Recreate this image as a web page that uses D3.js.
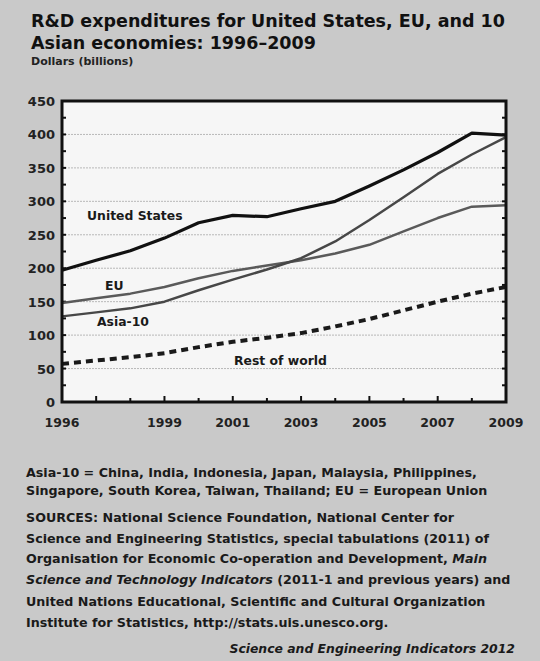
<!DOCTYPE html>
<html>
<head>
<meta charset="utf-8">
<script src="https://cdn.jsdelivr.net/npm/d3@7"></script>
<style>
  body { margin: 0; background: #c9c9c9; }
  svg { display: block; font-family: "DejaVu Sans", "Liberation Sans", Arial, sans-serif; }
</style>
</head>
<body>
<div id="chart"></div>
<script>
// years on the x axis
let years = d3.range(1996, 2010);

// series values, billions of dollars
let usValues   = [197, 212, 226, 245, 268, 279, 277, 289, 300, 323, 347, 373, 402, 399];
let euValues   = [148, 155, 162, 172, 185, 196, 204, 212, 222, 235, 255, 275, 292, 294];
let asiaValues = [128, 134, 140, 150, 167, 183, 198, 215, 240, 272, 306, 341, 370, 396];
let rowValues  = [57, 62, 67, 73, 82, 90, 96, 103, 113, 124, 137, 150, 162, 172];

let yTicks = [0, 50, 100, 150, 200, 250, 300, 350, 400, 450];
let xTickLabels = [1996, 1999, 2001, 2003, 2005, 2007, 2009];

let series = [
  {name: 'Rest of world', values: rowValues, color: '#1a1a1a', width: 4, dash: '7,5'},
  {name: 'EU', values: euValues, color: '#5a5a5a', width: 2.5, dash: null},
  {name: 'Asia-10', values: asiaValues, color: '#474747', width: 2.5, dash: null},
  {name: 'United States', values: usValues, color: '#111', width: 3.2, dash: null}
];

let width = 540;
let height = 661;
let plotLeft = 62, plotRight = 506, plotTop = 101, plotBottom = 402;

let svg = d3.select('#chart').append('svg')
    .attr('width', width)
    .attr('height', height);

svg.append('rect').attr('width', width).attr('height', height).attr('fill', '#c9c9c9');

let xScale = d3.scaleLinear().domain([1996, 2009]).range([plotLeft, plotRight]);
let yScale = d3.scaleLinear().domain([0, 450]).range([plotBottom, plotTop]);

// title and unit
let title = svg.append('text')
    .attr('x', 31).attr('y', 27)
    .style('font-size', '17.5px').style('font-weight', 'bold').attr('fill', '#111');
title.append('tspan').attr('x', 31).text('R&D expenditures for United States, EU, and 10');
title.append('tspan').attr('x', 31).attr('dy', 22).text('Asian economies: 1996\u20132009');

svg.append('text')
    .attr('x', 31).attr('y', 65)
    .style('font-size', '11px').style('font-weight', 'bold').attr('fill', '#222')
    .text('Dollars (billions)');

// plot area
svg.append('rect')
    .attr('x', plotLeft).attr('y', plotTop)
    .attr('width', plotRight - plotLeft).attr('height', plotBottom - plotTop)
    .attr('fill', '#f6f6f6');

// gridlines
svg.append('g').selectAll('line')
    .data(yTicks.filter(d => d > 0 && d < 450))
    .enter().append('line')
    .attr('x1', plotLeft).attr('x2', plotRight)
    .attr('y1', d => yScale(d)).attr('y2', d => yScale(d))
    .attr('stroke', '#b8b8b8').attr('stroke-width', 1)
    .attr('stroke-dasharray', '2,1');

// y axis labels
svg.append('g').selectAll('text')
    .data(yTicks)
    .enter().append('text')
    .attr('x', 55).attr('y', d => yScale(d) + 5)
    .attr('text-anchor', 'end')
    .style('font-size', '13px').style('font-weight', 'bold').attr('fill', '#222')
    .text(d => d);

// inner ticks on left and right axes
let yMinor = d3.range(25, 450, 25);
svg.append('g').selectAll('line')
    .data(yMinor)
    .enter().append('line')
    .attr('x1', plotLeft).attr('x2', plotLeft + 4)
    .attr('y1', d => yScale(d)).attr('y2', d => yScale(d))
    .attr('stroke', '#111').attr('stroke-width', 2);
svg.append('g').selectAll('line')
    .data(yMinor)
    .enter().append('line')
    .attr('x1', plotRight - 4).attr('x2', plotRight)
    .attr('y1', d => yScale(d)).attr('y2', d => yScale(d))
    .attr('stroke', '#111').attr('stroke-width', 2);

// bottom ticks
svg.append('g').selectAll('line')
    .data(years.slice(1, -1))
    .enter().append('line')
    .attr('x1', d => xScale(d)).attr('x2', d => xScale(d))
    .attr('y1', plotBottom).attr('y2', d => plotBottom - (d % 2 ? 6 : 4))
    .attr('stroke', '#111').attr('stroke-width', 2);

// x labels
svg.append('g').selectAll('text')
    .data(xTickLabels)
    .enter().append('text')
    .attr('x', d => xScale(d)).attr('y', 427)
    .attr('text-anchor', 'middle')
    .style('font-size', '12.5px').style('font-weight', 'bold').attr('fill', '#222')
    .text(d => d);

// series lines
let line = d3.line()
    .x((d, i) => xScale(years[i]))
    .y(d => yScale(d));

svg.append('g').selectAll('path')
    .data(series)
    .enter().append('path')
    .attr('d', d => line(d.values))
    .attr('fill', 'none')
    .attr('stroke', d => d.color)
    .attr('stroke-width', d => d.width)
    .attr('stroke-dasharray', d => d.dash)
    .attr('stroke-linejoin', 'round');

// frame
svg.append('rect')
    .attr('x', plotLeft).attr('y', plotTop)
    .attr('width', plotRight - plotLeft).attr('height', plotBottom - plotTop)
    .attr('fill', 'none').attr('stroke', '#111').attr('stroke-width', 3);

// series labels
let seriesLabels = [
  {text: 'United States', x: 87, y: 220},
  {text: 'EU', x: 105, y: 290},
  {text: 'Asia-10', x: 97, y: 326},
  {text: 'Rest of world', x: 234, y: 365}
];
svg.append('g').selectAll('text')
    .data(seriesLabels)
    .enter().append('text')
    .attr('x', d => d.x).attr('y', d => d.y)
    .style('font-size', '12.4px').style('font-weight', 'bold').attr('fill', '#1a1a1a')
    .text(d => d.text);

// notes
let notes = [
  [{t: 'Asia-10 = China, India, Indonesia, Japan, Malaysia, Philippines,'}],
  [{t: 'Singapore, South Korea, Taiwan, Thailand; EU = European Union'}],
  [{t: 'SOURCES: National Science Foundation, National Center for'}],
  [{t: 'Science and Engineering Statistics, special tabulations (2011) of'}],
  [{t: 'Organisation for Economic Co-operation and Development, '}, {t: 'Main', i: true}],
  [{t: 'Science and Technology Indicators', i: true}, {t: ' (2011-1 and previous years) and'}],
  [{t: 'United Nations Educational, Scientific and Cultural Organization'}],
  [{t: 'Institute for Statistics, http://stats.uis.unesco.org.'}]
];
let noteY = [477, 495, 522, 542.5, 563, 584, 606, 627];

notes.forEach(function(parts, k) {
  let txt = svg.append('text')
      .attr('x', 26).attr('y', noteY[k])
      .style('font-size', '12.7px').style('font-weight', 'bold').attr('fill', '#1a1a1a');
  parts.forEach(function(p) {
    txt.append('tspan').style('font-style', p.i ? 'italic' : 'normal').text(p.t);
  });
});

svg.append('text')
    .attr('x', 515).attr('y', 653)
    .attr('text-anchor', 'end')
    .style('font-size', '12.4px').style('font-weight', 'bold').style('font-style', 'italic')
    .attr('fill', '#1a1a1a')
    .text('Science and Engineering Indicators 2012');
</script>
</body>
</html>
